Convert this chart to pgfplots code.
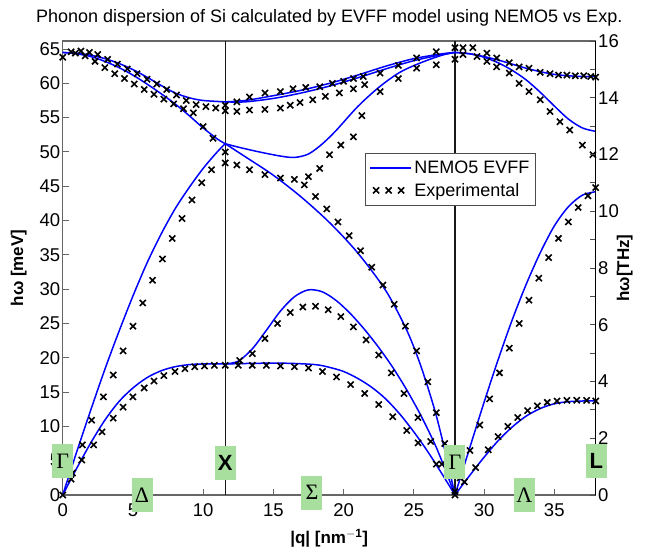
\documentclass[border=0pt]{standalone}
\usepackage{fontspec}
\setmainfont{Liberation Sans}
\newfontfamily\greekserif{Liberation Serif}
\usepackage{pgfplots}
\pgfplotsset{compat=1.18}
\definecolor{boxgreen}{RGB}{168,222,158}

\pgfplotsset{
  calc/.style={color={rgb,255:red,0;green,0;blue,255}, line width=1.5pt, no markers, smooth, forget plot},
  expt/.style={only marks, mark=x, mark size=4.3pt, black, mark options={line width=1.6pt}, forget plot},
}

\begin{document}
\begin{tikzpicture}[font=\fontsize{18.5}{21}\selectfont]
\useasboundingbox (-62.7pt,-54pt) rectangle (593.3pt,495pt);

\begin{axis}[
    width=533pt, height=454pt, scale only axis,
    xmin=0, xmax=37.95, ymin=0, ymax=66.17,
    clip=false,
    axis line style={black!60, line width=1.2pt},
    tick style={black!60, line width=0.9pt},
    tick align=inside,
    major tick length=6pt,
    xtick={0,5,...,35}, ytick={0,5,...,65},
    xtick pos=bottom, ytick pos=left,
    /pgf/number format/assume math mode=true,
    ticklabel style={font=\fontsize{18.5}{21}\selectfont},
    x tick label style={yshift=-5pt},
    y tick label style={xshift=1pt},
    title={Phonon dispersion of Si calculated by EVFF model using NEMO5 vs Exp.},
    title style={font=\fontsize{18}{21}\selectfont, yshift=5pt},
    xlabel={\bfseries |q| [nm$^{\mathbf{-1}}$]},
    xlabel style={font=\fontsize{17}{20}\selectfont, yshift=-6pt},
    ylabel={\bfseries hω [meV]},
    ylabel style={font=\fontsize{17}{20}\selectfont, yshift=6pt},
    legend style={at={(0.567,0.753)}, anchor=north west, draw=black!70, fill=white,
      line width=0.8pt,
      font=\fontsize{18}{20}\selectfont, inner xsep=4pt, inner ysep=5pt,
      nodes={inner sep=2.5pt}, row sep=3pt},
    legend cell align=left,
]

% symmetry lines at X and Gamma
\addplot[black!90, line width=1.2pt, forget plot] coordinates {(11.57,0) (11.57,66.17)};
\addplot[black!90, line width=1.2pt, forget plot] coordinates {(27.93,0) (27.93,66.17)};

% ---- NEMO5 EVFF, Gamma-X
\addplot[calc, forget plot=false,
  legend image code/.code={\draw (0pt,0pt) -- (41pt,0pt);}]
  coordinates {(0,0)(1,6.3)(2,12.4)(3,18.3)(4,23.8)(5,29.0)(6,33.8)(7,38.0)(8,41.7)(9,44.8)(10,47.6)(11,50.0)(11.57,51.2)};
\addlegendentry{NEMO5 EVFF\hspace{10pt}}
\addplot[calc] coordinates {(0,0)(1,3.9)(2,7.6)(3,10.9)(4,13.6)(5,15.6)(6,17.1)(7,18.1)(8,18.7)(9,19.0)(10,19.1)(11.57,19.1)};
\addplot[calc] coordinates {(0,64.5)(1,64.4)(2,64.1)(3,63.6)(4,62.9)(5,62.0)(6,60.9)(7,59.7)(8,58.6)(9,57.9)(10,57.5)(11.57,57.3)};
\addplot[calc] coordinates {(0,64.5)(1,64.3)(2,63.9)(3,63.2)(4,62.3)(5,61.2)(6,59.9)(7,58.5)(8,57.0)(9,55.3)(10,53.5)(11,51.9)(11.57,51.2)};
% ---- X-Gamma
\addplot[calc] coordinates {(11.57,57.3)(13,57.5)(15,58.2)(17,59.0)(19,60.0)(21,61.2)(23,62.5)(25,63.6)(27,64.3)(27.93,64.5)};
\addplot[calc] coordinates {(11.57,57.3)(13,57.3)(15,57.8)(17,58.6)(19,59.6)(21,60.8)(23,62.1)(25,63.3)(27,64.2)(27.93,64.5)};
\addplot[calc] coordinates {(11.57,51.2)(12.5,50.7)(14,50.0)(15.5,49.4)(16.5,49.2)(17.5,49.7)(18.5,51.2)(19.5,53.2)(21,56.6)(22.5,59.4)(24,61.6)(25.5,63.0)(27,64.1)(27.93,64.5)};
\addplot[calc] coordinates {(11.57,51.2)(13,49.3)(15,46.6)(17,43.4)(19,39.7)(21,35.3)(23,29.8)(24.5,24.0)(25.5,18.8)(26.5,12.3)(27.2,6.6)(27.93,0)};
\addplot[calc] coordinates {(11.57,19.1)(12.5,19.5)(13.5,21.3)(14.5,24.0)(15.5,26.8)(16.5,28.9)(17.5,29.9)(18.5,29.6)(19.5,28.3)(20.5,26.4)(21.5,24.1)(22.5,21.5)(23.5,18.6)(24.5,15.3)(25.5,11.6)(26.5,7.4)(27.2,3.9)(27.93,0)};
\addplot[calc] coordinates {(11.57,19.1)(14,19.2)(16,19.2)(18,19.0)(19,18.6)(20,18.0)(21,17.0)(22,15.7)(23,14.0)(24,11.8)(25,9.2)(26,6.3)(27,3.1)(27.93,0)};
% ---- Gamma-L
\addplot[calc] coordinates {(27.93,64.5)(29,64.3)(30,63.9)(31,63.4)(32,62.8)(33,62.2)(34,61.7)(35,61.3)(36,61.1)(37,61.0)(37.95,61.0)};
\addplot[calc] coordinates {(27.93,64.5)(29,64.3)(30,63.8)(31,63.0)(32,61.9)(33,60.5)(34,58.7)(35,56.7)(36,54.8)(37,53.5)(37.95,53.0)};
\addplot[calc] coordinates {(27.93,0)(29,7.0)(30,13.5)(31,19.7)(32,25.5)(33,30.7)(34,35.3)(35,39.2)(36,42.0)(37,43.7)(37.95,44.2)};
\addplot[calc] coordinates {(27.93,0)(29,2.9)(30,5.5)(31,7.9)(32,9.9)(33,11.5)(34,12.6)(35,13.3)(36,13.6)(37,13.7)(37.95,13.7)};

% ---- Experimental
\addplot[expt, forget plot=false,
  legend image code/.code={\draw[mark repeat=1,mark phase=1] plot coordinates {(6pt,0pt)(18.5pt,0pt)(31pt,0pt)};}]
  coordinates {(0,63.8)(0.6,64.6)(1.3,64.7)(1.9,64.5)(2.5,64.2)(3.2,63.5)(3.9,62.8)(4.6,62.1)(5.3,61.4)(6.0,60.6)(6.7,59.9)(7.4,59.1)(8.1,58.3)(8.8,57.5)(9.5,56.9)(10.2,56.6)(10.9,56.4)(11.57,56.8)};
\addlegendentry{Experimental}
\addplot[expt] coordinates {(0.9,64.4)(1.6,64.0)(2.3,63.2)(3.0,62.3)(3.7,61.4)(4.4,60.7)(5.1,59.9)(5.8,59.1)(6.5,58.4)(7.2,57.7)(7.9,57.0)(8.6,56.3)(9.3,55.7)(10.0,53.7)(10.7,52.0)(11.57,50.0)};
\addplot[expt] coordinates {(0,0)(0.7,3.2)(1.4,7.3)(2.06,10.9)(2.9,14.3)(3.6,17.5)(4.3,21.0)(5.0,24.6)(5.7,28.0)(6.4,31.3)(7.1,34.4)(7.8,37.4)(8.5,40.3)(9.2,43.0)(9.9,45.5)(10.6,47.4)(11.57,48.4)};
\addplot[expt] coordinates {(0.6,2.3)(1.35,5.1)(2.2,7.3)(2.8,9.2)(3.6,11.2)(4.3,12.8)(5.0,14.3)(5.8,15.6)(6.5,16.6)(7.2,17.4)(8.0,18.0)(8.7,18.4)(9.4,18.7)(10.1,18.8)(10.8,18.9)(11.57,18.9)};
\addplot[expt] coordinates {(12.4,57.3)(13.3,58.0)(14.4,58.6)(15.5,58.8)(16.4,59.2)(17.3,59.4)(18.3,59.5)(19.2,60.0)(20.0,60.3)(20.7,60.7)(21.4,61.0)(22.6,61.5)(23.9,62.6)(25.2,63.7)(26.6,64.6)(27.93,65.2)};
\addplot[expt] coordinates {(11.57,56.0)(12.4,55.9)(13.3,56.1)(14.4,56.2)(15.5,56.4)(16.2,56.8)(16.9,57.2)(17.8,57.6)(18.7,58.1)(19.7,58.6)(20.7,59.2)(21.5,59.8)};
\addplot[expt] coordinates {(12.4,48.1)(13.3,47.4)(14.4,46.7)(15.5,46.2)(16.5,46.0)(17.5,46.4)(18.3,47.6)(19.0,49.6)(19.8,51.0)(20.7,52.2)(21.3,55.3)(22.6,58.8)(23.9,60.7)(25.2,62.2)(26.6,62.7)(27.93,63.5)};
\addplot[expt] coordinates {(17.2,45.2)(18.0,43.5)(18.8,41.7)(19.6,39.8)(20.4,37.8)(21.2,35.6)(22.0,33.2)(22.8,30.6)(23.6,27.8)(24.4,24.6)(25.2,21.0)(26.0,16.5)(26.6,12.0)(27.2,7.5)(27.93,0)};
\addplot[expt] coordinates {(12.6,19.6)(13.5,20.6)(14.4,22.8)(15.3,25.0)(16.2,26.6)(17.1,27.4)(18.0,27.5)(18.9,27.0)(19.8,26.0)(20.7,24.5)(21.6,22.6)(22.5,20.4)(23.4,17.8)(24.3,14.8)(25.3,11.3)(26.2,7.8)(27.0,4.5)};
\addplot[expt] coordinates {(12.5,18.9)(13.5,18.9)(14.5,18.9)(15.5,18.8)(16.5,18.7)(17.5,18.5)(18.5,18.0)(19.5,17.2)(20.5,16.1)(21.5,14.8)(22.5,13.2)(23.5,11.4)(24.5,9.4)(25.3,7.6)(26.6,4.5)(27.93,0.5)};
\addplot[expt] coordinates {(28.5,65.2)(29.2,65.2)(30.2,64.4)(30.9,63.7)(31.8,63.0)(32.5,62.4)(33.2,62.2)(34.0,61.6)(34.7,61.4)(35.3,61.2)(35.9,61.2)(36.5,61.1)(37.1,61.1)(37.6,61.0)(37.95,60.9)};
\addplot[expt] coordinates {(28.5,64.2)(29.5,63.9)(30.2,63.2)(30.9,62.4)(31.8,61.5)(32.5,60.0)(33.2,58.8)(34.0,57.6)(34.7,55.9)(35.4,54.4)(36.1,53.2)(37.0,51.0)(37.75,49.6)};
\addplot[expt] coordinates {(28.3,2.5)(29.0,6.5)(29.7,10.2)(30.4,14.0)(31.1,17.8)(31.8,21.4)(32.5,25.0)(33.2,28.4)(33.9,31.6)(34.6,34.6)(35.3,37.4)(36.0,39.8)(36.7,41.9)(37.4,43.6)(37.95,44.8)};
\addplot[expt] coordinates {(28.6,1.9)(29.4,4.0)(30.3,6.6)(31.0,8.5)(31.7,10.0)(32.4,11.3)(33.1,12.3)(33.8,13.0)(34.5,13.5)(35.2,13.7)(35.9,13.8)(36.6,13.8)(37.3,13.8)(37.95,13.7)};

\coordinate (G1) at (axis cs:0,4.95);
\coordinate (Xp) at (axis cs:11.57,4.7);
\coordinate (G2) at (axis cs:27.93,4.8);
\coordinate (Lp) at (axis cs:38.0,4.95);
\coordinate (Dl) at (axis cs:5.65,-0.07);
\coordinate (Sg) at (axis cs:17.75,0.36);
\coordinate (Lm) at (axis cs:32.87,0);
\end{axis}

\begin{axis}[
    width=533pt, height=454pt, scale only axis,
    xmin=0, xmax=37.95, ymin=0, ymax=16,
    axis x line=none, axis y line*=right,
    axis line style={black, line width=1.2pt},
    tick style={black!70, line width=0.9pt},
    tick align=inside,
    major tick length=6pt, minor tick length=6pt,
    ytick={0,2,...,16}, minor ytick={1,3,...,15},
    /pgf/number format/assume math mode=true,
    ticklabel style={font=\fontsize{18.5}{21}\selectfont},
    y tick label style={xshift=-1pt},
    ylabel={\bfseries hω[THz]},
    ylabel style={font=\fontsize{17}{20}\selectfont, yshift=9pt},
]
\addplot[draw=none, forget plot] coordinates {(0,0)};
\end{axis}

\tikzset{gbox/.style={fill=boxgreen, inner sep=0pt, minimum width=21pt, minimum height=34pt, font=\fontsize{22}{24}\selectfont}}
\node[gbox] at (G1) {\greekserif Γ};
\node[gbox] at (Xp) {\bfseries X};
\node[gbox] at (G2) {\greekserif Γ};
\node[gbox] at (Lp) {\bfseries L};
\node[gbox] at (Dl) {\greekserif Δ};
\node[gbox] at (Sg) {\greekserif Σ};
\node[gbox] at (Lm) {\greekserif Λ};
\end{tikzpicture}
\end{document}
